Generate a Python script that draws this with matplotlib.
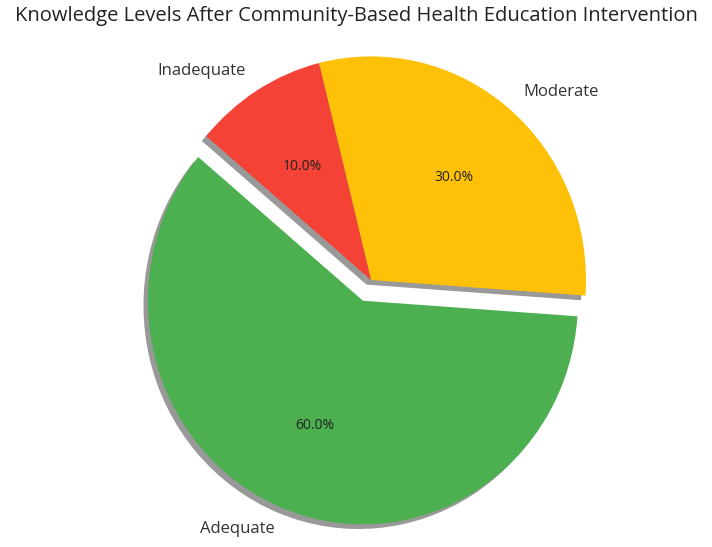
import matplotlib
matplotlib.use("Agg")
import matplotlib.pyplot as plt

categories = ["Adequate", "Moderate", "Inadequate"]
values = [60, 30, 10]
colors = ["#4CAF50", "#FFC107", "#F44336"]
explode = [0.1, 0, 0]
title = "Knowledge Levels After Community-Based Health Education Intervention"

W, H = 712, 547
fig = plt.figure(figsize=(W / 100, H / 100), dpi=100)

# pie axes: radius ~215 px horizontally, slightly taller vertically
lim = 1.25
sx = 2 * lim * 215
sy = sx * 1.04
cx, cy = 371, H - 280
ax = fig.add_axes([(cx - sx / 2) / W, (cy - sy / 2) / H, sx / W, sy / H])

wedges, texts, autotexts = ax.pie(
    values, labels=categories, colors=colors, explode=explode,
    autopct="%1.1f%%", startangle=140,
    shadow={"ox": -0.015, "oy": -0.015, "facecolor": "#999999",
            "edgecolor": "none", "alpha": 1.0},
    textprops={"fontsize": 12, "color": "#333333", "family": ["Open Sans", "DejaVu Sans"]},
)
for t in autotexts:
    t.set_fontsize(10)
    t.set_color("#222222")
ax.set_xlim(-lim, lim)
ax.set_ylim(-lim, lim)
ax.set_aspect("auto")

fig.text(0.5, (H - 21) / H, title, ha="center", va="baseline",
         fontsize=14.5, color="#222222",
         family=["Open Sans", "DejaVu Sans"])

fig.savefig("out.png", dpi=100)
